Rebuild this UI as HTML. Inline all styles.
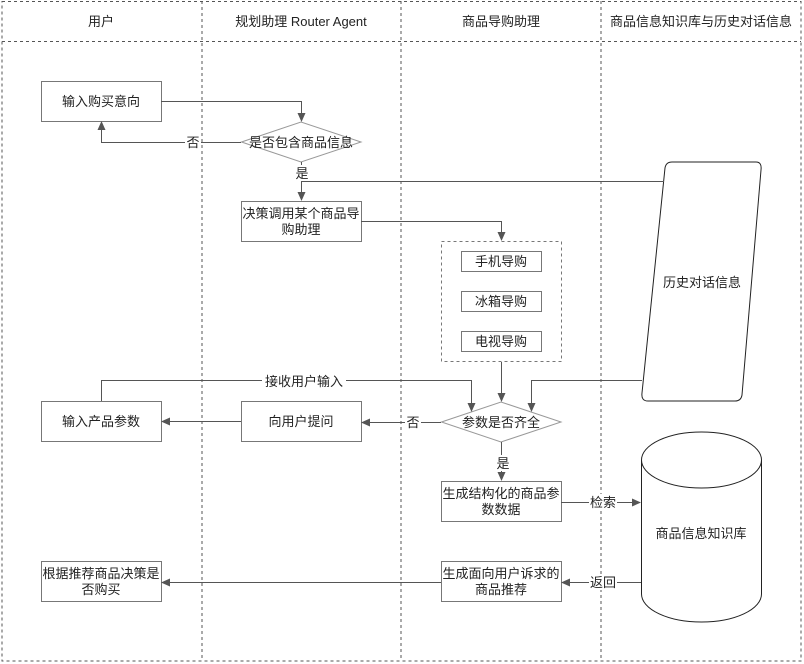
<!DOCTYPE html>
<html><head><meta charset="utf-8"><style>
html,body{margin:0;padding:0;background:#fff;}
svg{display:block;}
text{font-family:"Liberation Sans","Noto Sans CJK SC",sans-serif;font-size:13px;fill:#222;}
</style></head><body>
<svg width="804" height="664" viewBox="0 0 804 664" xmlns="http://www.w3.org/2000/svg">
<defs>
<marker id="a" markerWidth="10" markerHeight="10" refX="8" refY="5" orient="auto" markerUnits="userSpaceOnUse">
<path d="M0,1 L9,5 L0,9 Z" fill="#555"/>
</marker>
</defs>
<g fill="none" stroke="#555" stroke-dasharray="3,3" stroke-width="1">
<rect x="2" y="1.5" width="799" height="659.5"/>
<line x1="2" y1="41.5" x2="801" y2="41.5"/>
<line x1="202" y1="1" x2="202" y2="661"/>
<line x1="401" y1="1" x2="401" y2="661"/>
<line x1="601" y1="1" x2="601" y2="661"/>
</g>
<g text-anchor="middle">
<text x="101" y="26">用户</text>
<text x="301" y="26">规划助理 Router Agent</text>
<text x="501" y="26">商品导购助理</text>
<text x="701" y="26">商品信息知识库与历史对话信息</text>
</g>
<g fill="#fff" stroke="#777" stroke-width="1">
<rect x="41.5" y="81.5" width="120" height="40"/>
<polygon points="241.5,142 301,122 361,142 301,162" stroke="#999"/>
<rect x="241.5" y="201.5" width="120" height="40"/>
<rect x="441.5" y="241.5" width="120" height="120" stroke-dasharray="3,3"/>
<rect x="461.5" y="251.5" width="80" height="20"/>
<rect x="461.5" y="291.5" width="80" height="20"/>
<rect x="461.5" y="331.5" width="80" height="20"/>
<polygon points="441.5,422 501,402 561,422 501,442" stroke="#999"/>
<rect x="241.5" y="401.5" width="120" height="40"/>
<rect x="41.5" y="401.5" width="120" height="40"/>
<rect x="441.5" y="481.5" width="120" height="40"/>
<rect x="441.5" y="561.5" width="120" height="40"/>
<rect x="41.5" y="561.5" width="120" height="40"/>
</g>
<path d="M672,162 L756,162 Q762,162 761,170 L742,395 Q741,401 735,401 L648,401 Q641,401 642,393 L665,168 Q666,162 672,162 Z" fill="#fff" stroke="#222"/>
<path d="M641.5,460 L641.5,594 A60,28 0 0 0 761.5,594 L761.5,460 A60,28 0 0 0 641.5,460 A60,28 0 0 0 761.5,460" fill="#fff" stroke="#222"/>
<g fill="none" stroke="#555" stroke-width="1">
<polyline points="161,101.5 301.5,101.5 301.5,121" marker-end="url(#a)"/>
<polyline points="241,142.5 101.5,142.5 101.5,122" marker-end="url(#a)"/>
<line x1="301.5" y1="162" x2="301.5" y2="200" marker-end="url(#a)"/>
<line x1="301.5" y1="181.5" x2="664" y2="181.5"/>
<polyline points="361,221.5 501.5,221.5 501.5,240" marker-end="url(#a)"/>
<line x1="501.5" y1="362" x2="501.5" y2="401" marker-end="url(#a)"/>
<polyline points="101.5,401 101.5,380.5 471.5,380.5 471.5,411" marker-end="url(#a)"/>
<polyline points="642,380.5 531.5,380.5 531.5,411" marker-end="url(#a)"/>
<line x1="441" y1="422.5" x2="362" y2="422.5" marker-end="url(#a)"/>
<line x1="241" y1="421.5" x2="162" y2="421.5" marker-end="url(#a)"/>
<line x1="501.5" y1="442" x2="501.5" y2="480" marker-end="url(#a)"/>
<line x1="561" y1="502.5" x2="640" y2="502.5" marker-end="url(#a)"/>
<line x1="641" y1="582.5" x2="562" y2="582.5" marker-end="url(#a)"/>
<line x1="441" y1="582.5" x2="162" y2="582.5" marker-end="url(#a)"/>
</g>
<g fill="#fff">
<rect x="185" y="134" width="16" height="16"/>
<rect x="294" y="165" width="16" height="16"/>
<rect x="262" y="373" width="84" height="16"/>
<rect x="405" y="414" width="16" height="16"/>
<rect x="495" y="455" width="16" height="16"/>
<rect x="589" y="494" width="28" height="16"/>
<rect x="589" y="574" width="28" height="16"/>
</g>
<g text-anchor="middle">
<text x="101" y="106">输入购买意向</text>
<text x="193" y="147">否</text>
<text x="301" y="147">是否包含商品信息</text>
<text x="302" y="178">是</text>
<text x="301" y="218">决策调用某个商品导</text>
<text x="301" y="234">购助理</text>
<text x="501" y="266">手机导购</text>
<text x="501" y="306">冰箱导购</text>
<text x="501" y="346">电视导购</text>
<text x="702" y="287">历史对话信息</text>
<text x="304" y="386">接收用户输入</text>
<text x="501" y="427">参数是否齐全</text>
<text x="413" y="427">否</text>
<text x="301" y="426">向用户提问</text>
<text x="101" y="426">输入产品参数</text>
<text x="503" y="468">是</text>
<text x="501" y="498">生成结构化的商品参</text>
<text x="501" y="514">数数据</text>
<text x="603" y="507">检索</text>
<text x="701" y="538">商品信息知识库</text>
<text x="501" y="578">生成面向用户诉求的</text>
<text x="501" y="594">商品推荐</text>
<text x="603" y="587">返回</text>
<text x="101" y="578">根据推荐商品决策是</text>
<text x="101" y="594">否购买</text>
</g>
</svg>
</body></html>
